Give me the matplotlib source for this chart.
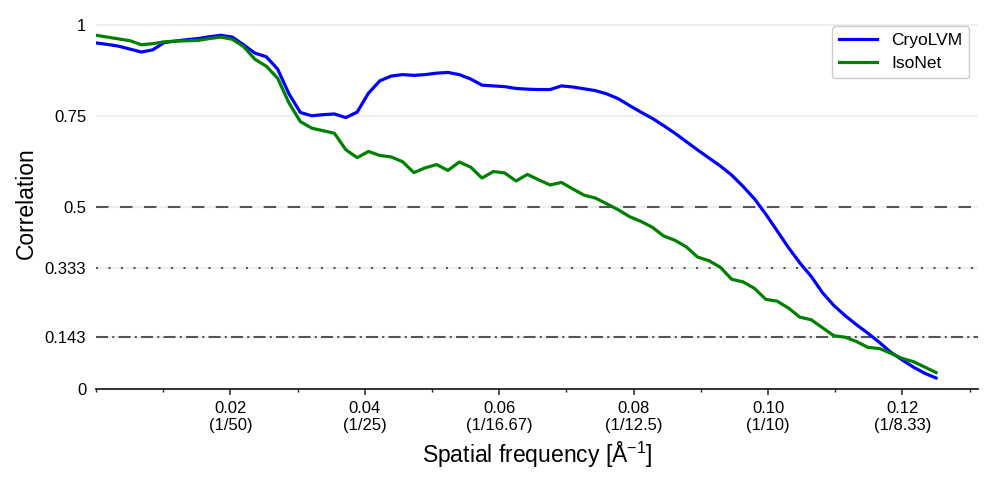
import numpy as np
import matplotlib
matplotlib.use("Agg")
import matplotlib.pyplot as plt
from matplotlib.ticker import MultipleLocator

plt.rcParams['font.family'] = ['Liberation Sans', 'DejaVu Sans']
plt.rcParams['mathtext.fontset'] = 'custom'
plt.rcParams['mathtext.rm'] = 'Liberation Sans'
plt.rcParams['mathtext.it'] = 'Liberation Sans:italic'
plt.rcParams['mathtext.bf'] = 'Liberation Sans:bold'

# FSC shells: box 148, 4 A/px -> 75 shells from 0 to Nyquist (0.125)
freq = np.arange(75) / 592.0

cryolvm = [0.950, 0.946, 0.941, 0.933, 0.925, 0.931, 0.951, 0.955, 0.959, 0.962,
           0.967, 0.971, 0.966, 0.945, 0.922, 0.912, 0.878, 0.810, 0.759, 0.750,
           0.753, 0.755, 0.745, 0.760, 0.812, 0.846, 0.859, 0.863, 0.861, 0.863,
           0.867, 0.869, 0.863, 0.851, 0.834, 0.832, 0.830, 0.825, 0.823, 0.822,
           0.822, 0.832, 0.829, 0.824, 0.819, 0.810, 0.797, 0.778, 0.760, 0.743,
           0.723, 0.702, 0.679, 0.656, 0.634, 0.612, 0.587, 0.556, 0.522, 0.480,
           0.434, 0.388, 0.346, 0.309, 0.264, 0.229, 0.201, 0.176, 0.153, 0.128,
           0.101, 0.080, 0.060, 0.043, 0.030]

isonet = [0.971, 0.966, 0.961, 0.956, 0.945, 0.948, 0.953, 0.955, 0.956, 0.957,
          0.962, 0.966, 0.960, 0.940, 0.905, 0.886, 0.853, 0.785, 0.734, 0.716,
          0.709, 0.702, 0.657, 0.635, 0.652, 0.641, 0.637, 0.624, 0.594, 0.607,
          0.616, 0.600, 0.623, 0.609, 0.579, 0.597, 0.593, 0.571, 0.589, 0.574,
          0.560, 0.567, 0.549, 0.532, 0.524, 0.508, 0.492, 0.473, 0.460, 0.444,
          0.420, 0.408, 0.390, 0.362, 0.352, 0.334, 0.301, 0.294, 0.276, 0.246,
          0.241, 0.222, 0.197, 0.190, 0.168, 0.146, 0.142, 0.130, 0.114, 0.111,
          0.098, 0.084, 0.075, 0.060, 0.045]

y_ticks = [0, 0.143, 0.333, 0.5, 0.75, 1]
y_ticklabels = ['0', '0.143', '0.333', '0.5', '0.75', '1']
x_ticks = [0.02, 0.04, 0.06, 0.08, 0.10, 0.12]
x_ticklabels = ['0.02\n(1/50)', '0.04\n(1/25)', '0.06\n(1/16.67)',
                '0.08\n(1/12.5)', '0.10\n(1/10)', '0.12\n(1/8.33)']

fig = plt.figure(figsize=(9.96, 4.98), dpi=100)
ax = fig.add_axes([0.0964, 0.219, 0.8856, 0.746])

ax.plot(freq, cryolvm, color='blue', lw=2.3, label='CryoLVM', zorder=3)
ax.plot(freq, isonet, color='green', lw=2.3, label='IsoNet', zorder=3)

ax.axhline(0.5, color='#555555', lw=1.5, ls=(0, (6, 5.5)), zorder=2)
ax.axhline(0.333, color='#555555', lw=1.5, ls=(0, (1, 5)), zorder=2)
ax.axhline(0.143, color='#555555', lw=1.5, ls=(0, (5.8, 2.0, 1.0, 2.0)), zorder=2)

ax.set_xlim(0, freq[-1] * 1.05)
ax.set_ylim(0, 1.02)

ax.set_yticks(y_ticks)
ax.set_yticklabels(y_ticklabels)
ax.set_xticks(x_ticks)
ax.set_xticklabels(x_ticklabels, linespacing=1.1)
ax.xaxis.set_minor_locator(MultipleLocator(0.01))

ax.grid(axis='y', color='#ebebeb', lw=1.2, zorder=0)
ax.set_axisbelow(True)

for s in ['top', 'right', 'left']:
    ax.spines[s].set_visible(False)
ax.spines['bottom'].set_linewidth(1.3)
ax.spines['bottom'].set_color('#222222')

ax.tick_params(axis='y', length=0, pad=7, labelsize=12)
ax.tick_params(axis='x', which='major', length=4, width=1.1, color='#222222', pad=5, labelsize=12)
ax.tick_params(axis='x', which='minor', length=2.5, width=1.0, color='#222222')

ax.set_xlabel('Spatial frequency [Å$^{-1}$]', fontsize=16.5, labelpad=5)
ax.set_ylabel('Correlation', fontsize=16.5, labelpad=5)

ax.legend(loc='upper right', fontsize=12.5, handlelength=2.2, framealpha=1,
          edgecolor='#cccccc', fancybox=True, labelspacing=0.45)

fig.savefig('out.png', dpi=100)
